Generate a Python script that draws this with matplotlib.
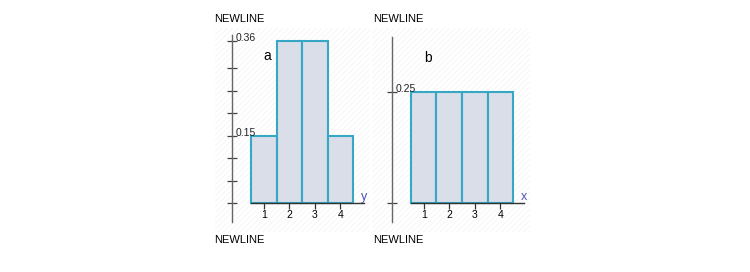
import matplotlib
matplotlib.use('Agg')
import matplotlib.pyplot as plt
from matplotlib.patches import Rectangle
import matplotlib.transforms as mtransforms

# datos de los dos histogramas
valores = [1, 2, 3, 4]
prob_a = [0.15, 0.36, 0.36, 0.15]
prob_b = [0.25, 0.25, 0.25, 0.25]
etiquetas_a = [0.15, 0.36]
etiquetas_b = [0.25]
ticks_a = [0, 0.05, 0.10, 0.15, 0.20, 0.25, 0.30, 0.36]
ticks_b = [0, 0.25]

plt.rcParams['font.family'] = ['Liberation Sans', 'DejaVu Sans']
plt.rcParams['hatch.linewidth'] = 0.6

W, H = 750, 272
fig = plt.figure(figsize=(W / 100, H / 100), dpi=100)

def px(x0, y0, x1, y1):
    # caja en pixeles (origen arriba a la izquierda) -> fraccion de figura
    return [x0 / W, 1 - y1 / H, (x1 - x0) / W, (y1 - y0) / H]

# fondo con textura muy tenue
for x0, x1 in [(215, 370), (372, 530)]:
    fig.patches.append(Rectangle((x0 / W, 1 - 232 / H), (x1 - x0) / W, 204 / H,
                                 transform=fig.transFigure, facecolor='none',
                                 edgecolor='#f5f5f5', hatch='//////', lw=0,
                                 zorder=-5))

def panel(caja, probs, ticks, etiquetas, letra, var):
    ax = fig.add_axes(caja)
    ax.patch.set_alpha(0)
    ax.set_xlim(0.5 - 19 / 25.5, 0.5 + 114 / 25.5)
    ax.set_ylim(-19 / 450, 168 / 450)
    ax.bar(valores, probs, width=1.0, color='#d9dee8', edgecolor='#36a8c6',
           linewidth=1.5, zorder=2)

    for s in ['top', 'right']:
        ax.spines[s].set_visible(False)
    ax.spines['left'].set_color('#666666')
    ax.spines['left'].set_linewidth(1.0)
    ax.spines['bottom'].set_position(('data', 0))
    ax.spines['bottom'].set_bounds(0.5, 4.95)
    ax.spines['bottom'].set_color('#333333')
    ax.spines['bottom'].set_linewidth(1.0)

    ax.set_xticks(valores)
    ax.set_xticklabels([str(v) for v in valores], fontsize=7.5)
    ax.tick_params(axis='x', direction='out', length=4, width=0.9, pad=1,
                   color='#333333')
    ax.set_yticks(ticks)
    ax.set_yticklabels([])
    ax.tick_params(axis='y', direction='inout', length=7, width=0.9,
                   color='#444444')

    trans = mtransforms.blended_transform_factory(ax.transAxes, ax.transData)
    for e in etiquetas:
        ax.text(0.03, e + 0.006, f'{e:.2f}', transform=trans, fontsize=7.5,
                ha='left', va='center', color='#222222')

    ax.text(1.15, 0.327, letra, fontsize=10, ha='center', va='center')
    ax.text(4.95, 0.0, var, fontsize=9, ha='center', va='bottom',
            color='#5050b8')
    return ax

panel(px(232, 35, 365, 222), prob_a, ticks_a, etiquetas_a, 'a', 'y')
panel(px(392, 37, 525, 222), prob_b, ticks_b, etiquetas_b, 'b', 'x')

for xt in [214, 373]:
    for yt in [19, 240]:
        fig.text(xt / W, 1 - yt / H, 'NEWLINE', fontsize=8, ha='left',
                 va='center')

fig.savefig('out.png', dpi=100)
